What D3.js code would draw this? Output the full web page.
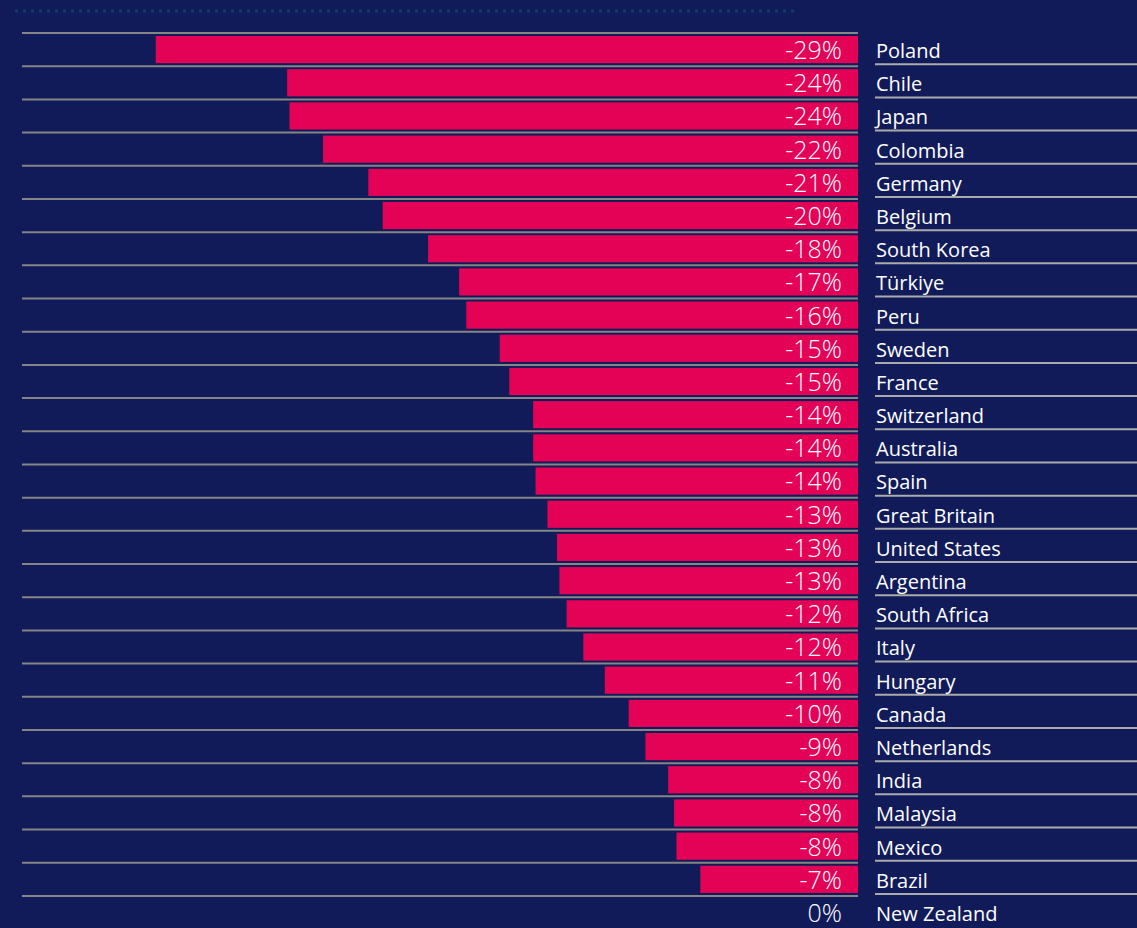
<!DOCTYPE html>
<html>
<head>
<meta charset="utf-8">
<script src="https://cdn.jsdelivr.net/npm/d3@7/dist/d3.min.js"></script>
<style>
	html, body { margin: 0; padding: 0; background: #111b59; }
	svg { display: block; }
</style>
</head>
<body>
<div id="chart"></div>
<script>
// countries, top to bottom
var countries = ["Poland", "Chile", "Japan", "Colombia", "Germany", "Belgium", "South Korea",
	"Türkiye", "Peru", "Sweden", "France", "Switzerland", "Australia", "Spain", "Great Britain",
	"United States", "Argentina", "South Africa", "Italy", "Hungary", "Canada", "Netherlands",
	"India", "Malaysia", "Mexico", "Brazil", "New Zealand"];
// change in percent
var changes = [-29.4, -23.9, -23.8, -22.4, -20.5, -19.9, -18.0,
	-16.7, -16.4, -15.0, -14.6, -13.6, -13.6, -13.5, -13.0,
	-12.6, -12.5, -12.2, -11.5, -10.6, -9.6, -8.9,
	-7.95, -7.7, -7.6, -6.6, 0];

var W = 1137, H = 928;
var svg = d3.select("#chart").append("svg")
	.attr("width", W)
	.attr("height", H)
	.style("background", "#111b59");

var rows = countries.map(function(c, i) { return { name: c, value: changes[i] }; });

var x = d3.scaleLinear().domain([-35, 0]).range([22, 858]);
var y = d3.scaleBand().domain(countries).range([33, 33 + 33.19 * countries.length]).paddingInner(0);
var bh = y.bandwidth();

// round half away from zero, like the source labels
function pct(v) {
	var r = Math.round(Math.abs(v));
	return (v < 0 && r > 0 ? "-" : "") + r + "%";
}

// dotted rule at the top
svg.append("line")
	.attr("x1", 15).attr("x2", 794)
	.attr("y1", 11).attr("y2", 11)
	.attr("stroke", "#0e4060")
	.attr("stroke-width", 3)
	.attr("stroke-dasharray", "3,5");

// gridlines on the left, one at the top of each row
svg.append("g").selectAll("line")
	.data(rows)
	.join("line")
	.attr("x1", x.range()[0]).attr("x2", x.range()[1])
	.attr("y1", function(d) { return y(d.name); })
	.attr("y2", function(d) { return y(d.name); })
	.attr("stroke", "#858585")
	.attr("stroke-width", 2);

// bars
svg.append("g").selectAll("rect")
	.data(rows.filter(function(d) { return d.value < 0; }))
	.join("rect")
	.attr("x", function(d) { return x(d.value); })
	.attr("y", function(d) { return y(d.name) + 3; })
	.attr("width", function(d) { return x(0) - x(d.value); })
	.attr("height", bh - 6)
	.attr("fill", "#e40257");

// value labels
svg.append("g").selectAll("text")
	.data(rows)
	.join("text")
	.attr("x", x(0) - 16)
	.attr("y", function(d) { return y(d.name) + 26; })
	.attr("text-anchor", "end")
	.attr("fill", "#ffffff")
	.style("font-family", "'Open Sans', sans-serif")
	.style("font-weight", 300)
	.style("font-size", "25px")
	.text(function(d) { return pct(d.value); });

// rules under the country names (none under the last)
svg.append("g").selectAll("line")
	.data(rows.slice(0, rows.length - 1))
	.join("line")
	.attr("x1", 875).attr("x2", W)
	.attr("y1", function(d) { return y(d.name) + bh - 2; })
	.attr("y2", function(d) { return y(d.name) + bh - 2; })
	.attr("stroke", "#ababab")
	.attr("stroke-width", 2);

// country names
svg.append("g").selectAll("text")
	.data(rows)
	.join("text")
	.attr("x", 876)
	.attr("y", function(d) { return y(d.name) + 25; })
	.attr("fill", "#ffffff")
	.style("font-family", "'Open Sans', sans-serif")
	.style("font-size", "20px")
	.text(function(d) { return d.name; });
</script>
</body>
</html>
